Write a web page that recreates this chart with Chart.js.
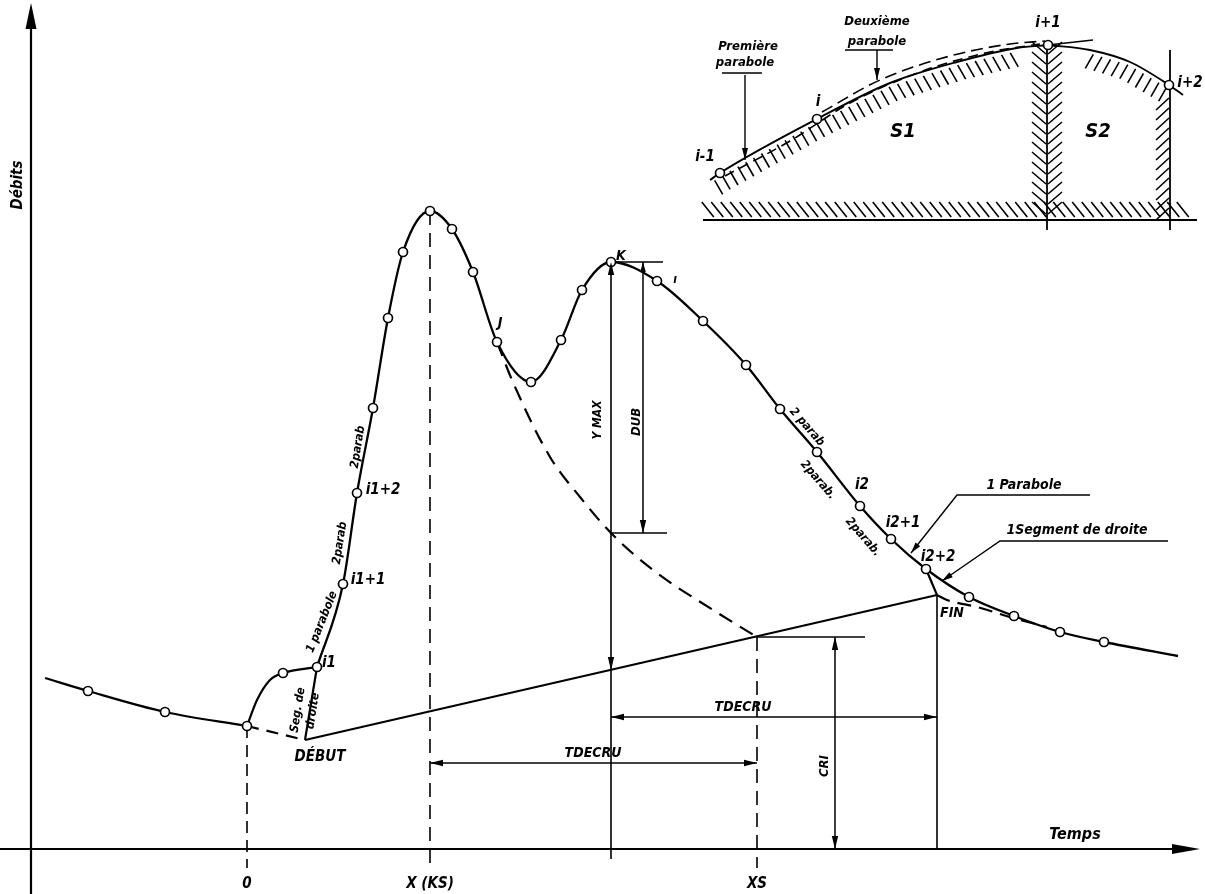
<!DOCTYPE html>
<html><head><meta charset="utf-8">
<script src="https://cdn.jsdelivr.net/npm/chart.js@4/dist/chart.umd.min.js"></script>
<style>html,body{margin:0;padding:0;background:#fff;overflow:hidden}canvas{display:block}</style>
</head><body>
<canvas id="c" width="1205" height="894"></canvas>
<script>
// ---------- DATA (t = temps, Q = débits) ----------
const baseLeftT = [-20.2, -15.9, -8.2, 0];
const baseLeftQ = [17.1, 15.8, 13.7, 12.3];
const riseStartT = [0, 1.0, 2.3, 3.6, 7.0];
const riseStartQ = [12.3, 14.9, 16.9, 17.6, 18.2];
const hydroT = [7.0, 9.6, 11.0, 12.6, 14.1, 15.6, 18.3, 20.5, 22.6, 25.0, 28.4, 31.4, 33.5, 36.4, 41.0, 45.6, 49.9, 53.3, 57.0, 61.3, 64.4, 67.9, 72.2, 76.7, 81.3, 85.7, 93.1];
const hydroQ = [18.2, 26.5, 35.6, 44.1, 53.1, 59.7, 63.8, 62.0, 57.7, 50.7, 46.7, 50.9, 55.9, 58.7, 56.8, 52.8, 48.4, 44.0, 39.7, 34.3, 31.0, 28.0, 25.2, 23.3, 21.7, 20.7, 19.3];
const recessT = [25.0, 26.5, 30.3, 33.3, 36.4, 40.6, 46.6, 51.0];
const recessQ = [50.7, 46.9, 39.2, 35.2, 31.6, 27.9, 23.9, 21.2];
const finDashT = [69.0, 70.0, 73.0, 76.6, 80.0];
const finDashQ = [25.4, 24.9, 24.2, 23.1, 22.2];
// key instants and flows
const tZero = 0, tKS = 18.3, tDebut = 5.8, tI1 = 7.0, tK = 36.4, tDUB = 39.6, tXS = 51.0, tCRI = 58.8, tI22 = 67.9, tFIN = 69.0;
const qZero = 12.3, qDebut = 10.9, qI1 = 18.2, qPeak = 63.8, qK = 58.7, qKbase = 17.9, qDUBlow = 31.6, qXS = 21.2, qI22 = 28.0, qFIN = 25.4;
const qTdecruHigh = 13.2, qTdecruLow = 8.6, qFloor = -1.9, qYmaxFloor = -1.0;
const tKtickEnd = 41.6, tDUBtickEnd = 42.0, tCRItickEnd = 61.8;
// axes extents
const tMin = -24.7, tMax = 95.8, qMin = -4.5, qMax = 84.9;
const tAxisY = -21.6, qAxisTop = 84.6, tAxisEnd = 95.3;
// leaders
const parabLeaderT = [84.3, 71.0, 66.4], parabLeaderQ = [35.4, 35.4, 29.6];
const segLeaderT = [92.1, 75.3, 69.5], segLeaderQ = [30.8, 30.8, 26.8];
// inset diagram
const insetBaseT = [45.6, 95.0], insetBaseQ = 62.9;
const insetV1T = 80.0, insetV1Q = [80.6, 61.9];
const insetV2T = 92.3, insetV2Q = [79.9, 61.9];
const insetCurveT = [46.3, 47.3, 57.0, 64.3, 71.0, 77.0, 80.1];
const insetCurveQ = [66.9, 67.6, 73.0, 76.6, 78.7, 80.1, 80.4];
const insetTangentT = [80.1, 84.6], insetTangentQ = [80.4, 80.9];
const insetTailT = [80.1, 84.3, 88.3, 92.2, 93.6];
const insetTailQ = [80.4, 79.9, 78.7, 76.4, 75.4];
const para1T = [47.8, 54.3, 60.3, 67.3, 74.3, 79.3];
const para1Q = [67.3, 70.8, 74.6, 77.7, 79.7, 80.5];
const para2T = [57.5, 63.3, 70.3, 76.3, 79.8];
const para2Q = [73.7, 76.9, 79.3, 80.5, 80.8];
const insetMarkT = [47.3, 57.0, 80.1, 92.2];
const insetMarkQ = [67.6, 73.0, 80.4, 76.4];
const prem = {ulT: [47.5, 51.5], ulQ: 77.6, arrT: 49.8, arrQ: [77.4, 68.9]};
const deux = {ulT: [59.8, 64.6], ulQ: 79.9, arrT: 63.0, arrQ: [79.9, 76.9]};

// labels: [text, t, Q, size, rotationDeg]
const labels = [
  ['Débits', -22.9, 66.4, 15, -90],
  ['Temps', 82.8, 1.4, 16, 0],
  ['0', 0, -3.5, 15, 0],
  ['X (KS)', 18.3, -3.5, 15, 0],
  ['XS', 51.0, -3.5, 15, 0],
  ['DÉBUT', 7.3, 9.2, 15, 0],
  ['FIN', 70.5, 23.6, 14, 0],
  ['TDECRU', 49.6, 14.2, 14, 0],
  ['TDECRU', 34.6, 9.6, 14, 0],
  ['CRI', 57.8, 8.3, 13, -90],
  ['Y MAX', 35.1, 42.9, 12, -90],
  ['DUB', 39.0, 42.7, 13, -90],
  ['K', 37.4, 59.3, 14, 0],
  ['J', 25.3, 52.6, 14, 0],
  ['ı', 42.8, 56.9, 12, 0],
  ['i1', 8.2, 18.6, 15, 0],
  ['i1+1', 12.1, 26.9, 15, 0],
  ['i1+2', 13.6, 35.9, 15, 0],
  ['2parab', 11.1, 40.2, 12, -81],
  ['2parab', 9.3, 30.6, 12, -81],
  ['1 parabole', 7.5, 22.7, 12, -68],
  ['Seg. de', 5.1, 13.9, 12, -81],
  ['droite', 6.6, 13.8, 12, -81],
  ['2 parab', 56.0, 42.2, 12, 49],
  ['2parab.', 57.1, 36.9, 12, 49],
  ['i2', 61.5, 36.4, 15, 0],
  ['2parab.', 61.6, 31.2, 12, 49],
  ['i2+1', 65.6, 32.6, 15, 0],
  ['i2+2', 69.1, 29.2, 15, 0],
  ['1 Parabole', 77.7, 36.4, 14, 0],
  ['1Segment de droite', 83.0, 31.9, 14, 0],
  ['Première', 50.1, 80.2, 13, 0],
  ['parabole', 49.8, 78.6, 13, 0],
  ['Deuxième', 63.0, 82.7, 13, 0],
  ['parabole', 63.0, 80.7, 13, 0],
  ['i-1', 45.8, 69.2, 15, 0],
  ['i', 57.1, 74.7, 15, 0],
  ['i+1', 80.1, 82.6, 15, 0],
  ['i+2', 94.3, 76.6, 15, 0],
  ['S1', 65.6, 71.7, 20, 0],
  ['S2', 85.1, 71.7, 20, 0]
];

// ---------- BUILD DATASETS ----------
const pts = (ts, qs) => ts.map((t, i) => ({x: t, y: Array.isArray(qs) ? qs[i] : qs}));
const col = (t, qs) => qs.map(q => ({x: t, y: q}));
function line(data, o = {}) {
  return {data, showLine: true, pointRadius: 0, borderColor: '#000', backgroundColor: '#000',
    borderWidth: o.w || 1.6, borderDash: o.dash || [], tension: 0,
    cubicInterpolationMode: o.mono ? 'monotone' : 'default', order: 5, clip: false};
}
const DASH = [15, 9];
const datasets = [
  // axes
  line(col(tAxisY, [qMin, qAxisTop - 2]), {w: 2.2}),
  line(pts([tMin, tAxisEnd - 2], 0), {w: 2.2}),
  // hydrograph
  line(pts(baseLeftT, baseLeftQ), {w: 2.2, mono: true}),
  line(pts(riseStartT, riseStartQ), {w: 2.2, mono: true}),
  line(pts(hydroT, hydroQ), {w: 2.3, mono: true}),
  line(pts([tI1, tDebut], [qI1, qDebut]), {w: 2.2}),
  line(pts([tZero, tDebut], [qZero, qDebut]), {w: 2.2, dash: [12, 8]}),
  line(pts([tDebut, tFIN], [qDebut, qFIN]), {w: 2.2}),
  line(pts(recessT, recessQ), {w: 2.2, dash: DASH, mono: true}),
  line(pts([tI22, tFIN], [qI22, qFIN]), {w: 2.2}),
  line(pts(finDashT, finDashQ), {w: 2.2, dash: [14, 8], mono: true}),
  // verticals
  line(col(tZero, [qZero, qFloor]), {w: 1.6, dash: [12, 7]}),
  line(col(tKS, [qPeak, qFloor]), {w: 1.6, dash: [14, 8]}),
  line(col(tXS, [qXS, qFloor]), {w: 1.6, dash: [14, 8]}),
  line(col(tK, [qK, qYmaxFloor]), {w: 1.6}),
  line(col(tFIN, [qFIN, 0]), {w: 1.6}),
  // dimension lines
  line(col(tDUB, [qK, qDUBlow]), {w: 1.5}),
  line(col(tCRI, [qXS, 0]), {w: 1.5}),
  line(pts([tK, tKtickEnd], qK), {w: 1.5}),
  line(pts([tK, tDUBtickEnd], qDUBlow), {w: 1.5}),
  line(pts([tXS, tCRItickEnd], qXS), {w: 1.5}),
  line(pts([tK, tFIN], qTdecruHigh), {w: 1.5}),
  line(pts([tKS, tXS], qTdecruLow), {w: 1.5}),
  // leaders
  line(pts(parabLeaderT, parabLeaderQ), {w: 1.4}),
  line(pts(segLeaderT, segLeaderQ), {w: 1.4}),
  // inset
  line(pts(insetBaseT, insetBaseQ), {w: 1.8}),
  line(col(insetV1T, insetV1Q), {w: 1.8}),
  line(col(insetV2T, insetV2Q), {w: 1.8}),
  line(pts(insetCurveT, insetCurveQ), {w: 1.9, mono: true}),
  line(pts(insetTangentT, insetTangentQ), {w: 1.6}),
  line(pts(insetTailT, insetTailQ), {w: 1.9, mono: true}),
  line(pts(para1T, para1Q), {w: 1.6, dash: [10, 6], mono: true}),
  line(pts(para2T, para2Q), {w: 1.6, dash: [12, 6], mono: true}),
  line(pts(prem.ulT, prem.ulQ), {w: 1.4}),
  line(col(prem.arrT, prem.arrQ), {w: 1.4}),
  line(pts(deux.ulT, deux.ulQ), {w: 1.4}),
  line(col(deux.arrT, deux.arrQ), {w: 1.4})
];
// markers (open circles) at observed points
const marks = [
  ...pts(baseLeftT, baseLeftQ).slice(1),
  ...pts(riseStartT, riseStartQ).slice(3),
  ...pts(hydroT, hydroQ).slice(1, -1),
  ...pts(insetMarkT, insetMarkQ)
];
datasets.push({data: marks, showLine: false, pointRadius: 4.5, pointBackgroundColor: '#fff',
  pointBorderColor: '#000', pointBorderWidth: 1.7, order: -1, clip: false});

// ---------- DECORATION PLUGIN ----------
const FONT = '"DejaVu Sans Condensed", "Liberation Sans Narrow", "DejaVu Sans", sans-serif';
const decor = {
  id: 'decor',
  beforeDatasetsDraw(chart) {
    const ctx = chart.ctx, X = chart.scales.x, Y = chart.scales.y;
    const P = (t, q) => [X.getPixelForValue(t), Y.getPixelForValue(q)];
    function hatch(path, step, o1, o2) {
      const p = path.map(a => P(a.x, a.y));
      ctx.beginPath();
      let acc = step / 2;
      for (let i = 0; i < p.length - 1; i++) {
        const dx = p[i + 1][0] - p[i][0], dy = p[i + 1][1] - p[i][1];
        const L = Math.hypot(dx, dy);
        while (acc <= L) {
          const x = p[i][0] + dx * acc / L, y = p[i][1] + dy * acc / L;
          ctx.moveTo(x + o1[0], y + o1[1]); ctx.lineTo(x + o2[0], y + o2[1]);
          acc += step;
        }
        acc -= L;
      }
      ctx.stroke();
    }
    ctx.save();
    ctx.strokeStyle = '#000'; ctx.lineWidth = 1.6; ctx.lineCap = 'butt';
    hatch(pts([insetBaseT[0] + 0.6, insetBaseT[1] - 0.6], insetBaseQ), 9.5, [-12, -18], [0, -3]);
    hatch(pts(insetCurveT, insetCurveQ).slice(0, 6), 9, [1, 3], [9, 17]);
    hatch(pts(insetTailT, insetTailQ).slice(1, 4), 9, [-1, 3], [-9, 17]);
    hatch(col(insetV1T, [80.0, 63.4]), 10, [-15, -12], [-1, 0]);
    hatch(col(insetV1T, [80.0, 63.4]), 10, [1, 0], [15, -12]);
    hatch(col(insetV2T, [75.6, 63.4]), 10, [-14, 12], [-1, 0]);
    ctx.restore();
  },
  afterDatasetsDraw(chart) {
    const ctx = chart.ctx, X = chart.scales.x, Y = chart.scales.y;
    const P = (t, q) => [X.getPixelForValue(t), Y.getPixelForValue(q)];
    function arrow(from, to, len = 13, half = 3.2) {
      const a = P(from[0], from[1]), b = P(to[0], to[1]);
      const ang = Math.atan2(b[1] - a[1], b[0] - a[0]);
      ctx.save(); ctx.translate(b[0], b[1]); ctx.rotate(ang);
      ctx.beginPath(); ctx.moveTo(0, 0); ctx.lineTo(-len, -half); ctx.lineTo(-len, half); ctx.closePath();
      ctx.fill(); ctx.restore();
    }
    ctx.save();
    ctx.fillStyle = '#000';
    arrow([tAxisY, 70], [tAxisY, qAxisTop], 26, 5.5);
    arrow([80, 0], [tAxisEnd, 0], 28, 5);
    arrow([tK, 40], [tK, qK]); arrow([tK, 40], [tK, qKbase]);
    arrow([tDUB, 45], [tDUB, qK], 10, 2.8); arrow([tDUB, 45], [tDUB, qDUBlow]);
    arrow([tCRI, 10], [tCRI, qXS]); arrow([tCRI, 10], [tCRI, 0]);
    arrow([50, qTdecruHigh], [tK, qTdecruHigh]); arrow([50, qTdecruHigh], [tFIN, qTdecruHigh]);
    arrow([35, qTdecruLow], [tKS, qTdecruLow]); arrow([35, qTdecruLow], [tXS, qTdecruLow]);
    arrow([parabLeaderT[1], parabLeaderQ[1]], [parabLeaderT[2], parabLeaderQ[2]], 11, 3);
    arrow([segLeaderT[1], segLeaderQ[1]], [segLeaderT[2], segLeaderQ[2]], 11, 3);
    arrow([prem.arrT, prem.arrQ[0]], [prem.arrT, prem.arrQ[1]], 12, 3);
    arrow([deux.arrT, deux.arrQ[0]], [deux.arrT, deux.arrQ[1]], 12, 3);
    ctx.textAlign = 'center'; ctx.textBaseline = 'middle';
    for (const [txt, t, q, size, rot] of labels) {
      const p = P(t, q);
      ctx.save(); ctx.translate(p[0], p[1]); ctx.rotate(rot * Math.PI / 180);
      ctx.font = 'italic bold ' + size + 'px ' + FONT;
      ctx.fillText(txt, 0, 0);
      ctx.restore();
    }
    ctx.restore();
  }
};

new Chart(document.getElementById('c'), {
  type: 'scatter',
  data: {datasets},
  options: {
    responsive: false, animation: false, events: [],
    layout: {padding: 0, autoPadding: false},
    plugins: {legend: {display: false}, tooltip: {enabled: false}},
    scales: {
      x: {type: 'linear', min: tMin, max: tMax, display: false},
      y: {type: 'linear', min: qMin, max: qMax, display: false}
    }
  },
  plugins: [decor]
});
</script>
</body></html>
